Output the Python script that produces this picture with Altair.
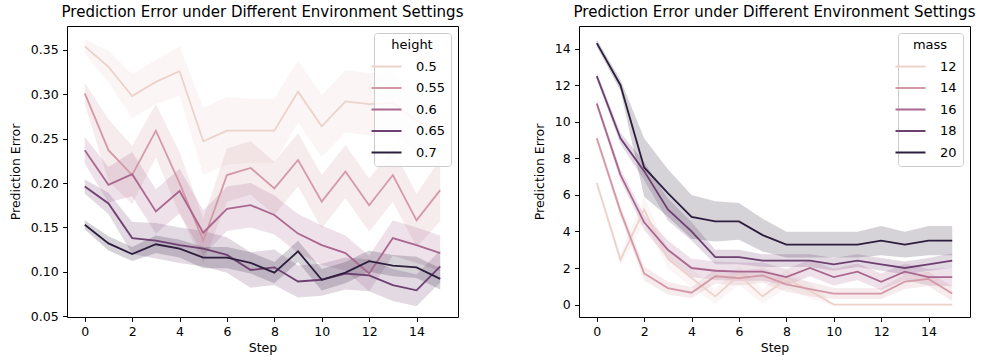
import altair as alt
import pandas as pd

steps = list(range(16))
x_ticks = [0, 2, 4, 6, 8, 10, 12, 14]
palette = ["#edd1cb", "#d499a7", "#aa678f", "#6e4071", "#2d1e3e"]

height_levels = ["0.5", "0.55", "0.6", "0.65", "0.7"]
h050 = [0.354, 0.331, 0.298, 0.314, 0.326, 0.247, 0.259, 0.259, 0.259, 0.303, 0.264, 0.292, 0.289, 0.290, 0.270, 0.260]
h055 = [0.301, 0.237, 0.209, 0.259, 0.200, 0.135, 0.209, 0.217, 0.194, 0.226, 0.179, 0.213, 0.175, 0.209, 0.158, 0.192]
h060 = [0.237, 0.198, 0.210, 0.168, 0.191, 0.144, 0.171, 0.175, 0.164, 0.143, 0.130, 0.121, 0.098, 0.138, 0.130, 0.121]
h065 = [0.196, 0.177, 0.138, 0.135, 0.130, 0.126, 0.119, 0.102, 0.105, 0.089, 0.091, 0.098, 0.096, 0.085, 0.079, 0.106]
h070 = [0.153, 0.132, 0.120, 0.131, 0.126, 0.116, 0.116, 0.110, 0.099, 0.123, 0.091, 0.099, 0.112, 0.107, 0.105, 0.092]
h050_ci = [0.008, 0.018, 0.025, 0.025, 0.028, 0.038, 0.038, 0.036, 0.036, 0.035, 0.035, 0.035, 0.035, 0.035, 0.035, 0.035]
h055_ci = [0.012, 0.035, 0.033, 0.030, 0.035, 0.025, 0.030, 0.030, 0.030, 0.030, 0.030, 0.030, 0.030, 0.030, 0.030, 0.035]
h060_ci = [0.015, 0.020, 0.025, 0.025, 0.025, 0.025, 0.025, 0.025, 0.022, 0.022, 0.022, 0.020, 0.020, 0.020, 0.020, 0.020]
h065_ci = [0.008, 0.012, 0.018, 0.020, 0.020, 0.020, 0.020, 0.020, 0.020, 0.018, 0.018, 0.018, 0.018, 0.018, 0.018, 0.018]
h070_ci = [0.005, 0.008, 0.008, 0.010, 0.010, 0.012, 0.012, 0.012, 0.012, 0.012, 0.012, 0.012, 0.012, 0.012, 0.012, 0.012]

mass_levels = ["12", "14", "16", "18", "20"]
m12 = [6.65, 2.45, 5.2, 2.5, 1.45, 0.45, 1.6, 0.45, 1.4, 0.75, 0.0, 0.0, 0.0, 0.0, 0.0, 0.0]
m14 = [9.1, 5.1, 1.7, 0.9, 0.65, 1.55, 1.45, 1.6, 1.1, 0.85, 0.6, 0.6, 0.6, 1.25, 1.4, 0.6]
m16 = [11.0, 7.1, 4.5, 3.0, 2.0, 1.85, 1.8, 1.8, 1.5, 2.0, 1.5, 1.8, 1.25, 1.8, 1.5, 1.5]
m18 = [12.5, 9.1, 7.3, 5.2, 4.0, 2.6, 2.6, 2.4, 2.4, 2.4, 2.2, 2.4, 2.2, 2.0, 2.2, 2.4]
m20 = [14.3, 12.0, 7.5, 6.1, 4.8, 4.55, 4.55, 3.8, 3.28, 3.28, 3.28, 3.28, 3.5, 3.28, 3.5, 3.5]
m12_ci = [0.2, 0.3, 0.7, 0.5, 0.5, 0.4, 0.5, 0.4, 0.5, 0.4, 0.05, 0.05, 0.05, 0.05, 0.05, 0.05]
m14_ci = [0.2, 0.3, 0.4, 0.35, 0.3, 0.4, 0.4, 0.4, 0.4, 0.4, 0.3, 0.3, 0.3, 0.4, 0.4, 0.4]
m16_ci = [0.2, 0.3, 0.4, 0.5, 0.5, 0.5, 0.5, 0.5, 0.45, 0.45, 0.45, 0.45, 0.45, 0.45, 0.45, 0.5]
m18_ci = [0.2, 0.3, 0.5, 0.6, 0.5, 0.4, 0.4, 0.35, 0.35, 0.35, 0.35, 0.35, 0.35, 0.35, 0.35, 0.4]
m20_ci = [0.2, 0.3, 1.6, 1.3, 1.2, 1.1, 1.0, 0.9, 0.7, 0.7, 0.7, 0.7, 0.8, 0.7, 0.8, 0.8]

title_text = "Prediction Error under Different Environment Settings"


def build(levels, means, cis):
    rows = []
    for lv, ms, cs in zip(levels, means, cis):
        for s, m, c in zip(steps, ms, cs):
            rows.append({"step": s, "level": lv, "mean": m, "lo": m - c, "hi": m + c})
    return pd.DataFrame(rows)


def panel(df, levels, legend_title, ydomain, yvalues, yfmt):
    xenc = alt.X("step:Q", scale=alt.Scale(domain=[-0.75, 15.75], nice=False, zero=False),
                 axis=alt.Axis(values=x_ticks, title="Step", format="d"))
    yscale = alt.Scale(domain=ydomain, nice=False, zero=False)
    yaxis = alt.Axis(values=yvalues, format=yfmt, title="Prediction Error")
    leg = alt.Legend(title=legend_title, symbolType="M-3,0H3", symbolSize=100,
                     symbolStrokeWidth=2, symbolOpacity=1, labelOffset=23)
    cscale = alt.Scale(domain=levels, range=palette)
    band = alt.Chart(df).mark_area(opacity=0.2, clip=True).encode(
        x=xenc,
        y=alt.Y("lo:Q", scale=yscale, axis=yaxis),
        y2="hi:Q",
        fill=alt.Fill("level:N", scale=cscale, legend=leg),
    )
    line = alt.Chart(df).mark_line(strokeWidth=1.8, clip=True).encode(
        x=xenc,
        y=alt.Y("mean:Q", scale=yscale, axis=yaxis),
        stroke=alt.Stroke("level:N", scale=cscale, legend=leg),
    )
    return alt.layer(band, line).properties(width=391, height=291, title=title_text)


left = panel(build(height_levels, [h050, h055, h060, h065, h070],
                   [h050_ci, h055_ci, h060_ci, h065_ci, h070_ci]),
             height_levels, "height", [0.049, 0.377],
             [0.05, 0.10, 0.15, 0.20, 0.25, 0.30, 0.35], ".2f")
right = panel(build(mass_levels, [m12, m14, m16, m18, m20],
                    [m12_ci, m14_ci, m16_ci, m18_ci, m20_ci]),
              mass_levels, "mass", [-0.68, 15.24],
              [0, 2, 4, 6, 8, 10, 12, 14], "d")

chart = alt.hconcat(left, right, spacing=121, bounds="flush").resolve_scale(
    fill="independent", stroke="independent"
).resolve_legend(
    fill="independent", stroke="independent"
).properties(
    padding={"left": 8, "top": 4, "right": 5, "bottom": 5}
).configure_view(stroke="black", strokeWidth=1).configure_axis(
    domain=False, grid=False, tickColor="black", tickSize=4.4, tickWidth=1,
    labelFont="DejaVu Sans", labelFontSize=12.5, labelColor="black", labelPadding=4.4,
    titleFont="DejaVu Sans", titleFontSize=12.5, titleFontWeight="normal", titleColor="black",
).configure_axisX(titlePadding=3).configure_axisY(titlePadding=8).configure_title(
    font="DejaVu Sans", fontSize=15, fontWeight="normal", color="black", offset=6, anchor="middle"
).configure_legend(
    orient="top-right", offset=7, padding=6, fillColor="rgba(255,255,255,0.8)",
    strokeColor="#cccccc", cornerRadius=3, rowPadding=7.5, titlePadding=8,
    labelFont="DejaVu Sans", labelFontSize=13, labelColor="black",
    titleFont="DejaVu Sans", titleFontSize=13, titleFontWeight="normal", titleColor="black",
    titleAnchor="middle",
)

chart.save("out.html", embed_options={"renderer": "svg", "actions": False})
